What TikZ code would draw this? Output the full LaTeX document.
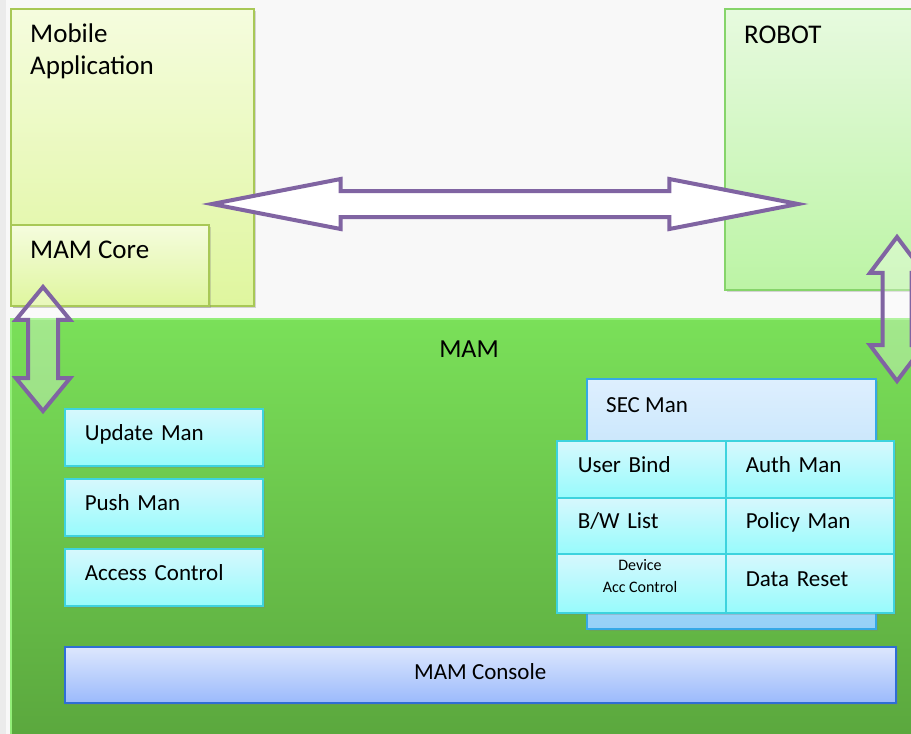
\documentclass[tikz,border=0pt]{standalone}
\usepackage{fontspec}
\setmainfont{Carlito}
\usetikzlibrary{shapes.arrows,shadows}
\definecolor{bgc}{HTML}{F8F8F8}
\definecolor{mobT}{HTML}{F5FCDE}
\definecolor{mobB}{HTML}{DFF69E}
\definecolor{mobD}{HTML}{A8C856}
\definecolor{robT}{HTML}{E7FADF}
\definecolor{robB}{HTML}{BCF4A5}
\definecolor{robD}{HTML}{86D46A}
\definecolor{mamT}{HTML}{7AE059}
\definecolor{mamB}{HTML}{5AA63D}
\definecolor{mamD}{HTML}{92EE78}
\definecolor{cyT}{HTML}{D7F8FD}
\definecolor{cyB}{HTML}{97FBFC}
\definecolor{cyD}{HTML}{3DD3DE}
\definecolor{secT}{HTML}{DEEFFE}
\definecolor{secB}{HTML}{95D1F7}
\definecolor{secD}{HTML}{35A9E6}
\definecolor{conT}{HTML}{DDE7FD}
\definecolor{conB}{HTML}{9BBAFC}
\definecolor{conD}{HTML}{2E6ED6}
\definecolor{arr}{HTML}{8064A2}
\begin{document}
\begin{tikzpicture}[x=1pt,y=-1pt,
  base/.style={draw, line width=1.5pt, anchor=north west, inner sep=0pt,
    font=\fontsize{23}{31}\selectfont,
    drop shadow={shadow xshift=2pt,shadow yshift=-2.5pt,opacity=0.3}},
  mobbox/.style={base, top color=mobT, bottom color=mobB, draw=mobD},
  robbox/.style={base, top color=robT, bottom color=robB, draw=robD},
  cybox/.style={base, top color=cyT, bottom color=cyB, draw=cyD, align=left,
    text height=16pt, text depth=10.5pt},
  secbox/.style={base, top color=secT, bottom color=secB, draw=secD},
  conbox/.style={base, top color=conT, bottom color=conB, draw=conD,
    text height=16pt, text depth=6pt},
  txt/.style={anchor=base west, inner sep=0pt, font=\fontsize{23}{31}\selectfont, align=left},
  bigtxt/.style={txt, font=\fontsize{27}{31.5}\selectfont},
  dblarrow/.style={double arrow, draw=arr, line width=4pt},
]
\useasboundingbox (0,0) rectangle (911,734);
\clip (0,0) rectangle (911,734);
\fill[bgc] (0,0) rectangle (911,734);
\fill[black!8] (0,0) rectangle (6,734);

% top boxes
\node[robbox, minimum width=200pt, minimum height=281pt] (robot) at (724,8) {};
\node[bigtxt] (robtxt) at (744,43) {ROBOT};
\node[mobbox, minimum width=243pt, minimum height=297pt] (mob) at (10,8) {};
\node[bigtxt] (mobtxt) at (30,74) {Mobile\\Application};
\node[mobbox, minimum width=198pt, minimum height=81pt] (core) at (10,224) {};
\node[bigtxt] (coretxt) at (30,258) {MAM Core};

% MAM area
\node[base, top color=mamT, bottom color=mamB, draw=mamD, minimum width=920pt, minimum height=430pt] (mam) at (10,318) {};
\node[txt, anchor=base, font=\fontsize{26}{31}\selectfont] (mamtxt) at (469,357) {MAM};

\node[cybox, minimum width=198pt, minimum height=57pt, text width=158pt] (upd) at (64,408) {Update Man};
\node[cybox, minimum width=198pt, minimum height=57pt, text width=158pt] (push) at (64,478) {Push Man};
\node[cybox, minimum width=198pt, minimum height=57pt, text width=158pt] (acc) at (64,548) {Access Control};

\node[secbox, minimum width=289pt, minimum height=250pt] (sec) at (586,378) {};
\node[txt] (sectxt) at (606,412) {SEC Man};

\node[cybox, minimum width=169pt, minimum height=57pt, text width=127pt] (ubind) at (556,440) {User Bind};
\node[cybox, minimum width=168pt, minimum height=57pt, text width=128pt] (auth) at (725,440) {Auth Man};
\node[cybox, minimum width=169pt, minimum height=56pt, text width=127pt] (bw) at (556,497) {B/W List};
\node[cybox, minimum width=168pt, minimum height=56pt, text width=128pt] (pol) at (725,497) {Policy Man};
\node[cybox, minimum width=169pt, minimum height=59pt] (dev) at (556,553) {};
\node[align=center, inner sep=0pt, font=\fontsize{16}{22}\selectfont] (devtxt) at (640,576) {Device\\Acc Control};
\node[cybox, minimum width=168pt, minimum height=59pt, text width=128pt] (reset) at (725,553) {Data Reset};

\node[conbox, minimum width=831pt, minimum height=56pt] (console) at (64,646) {MAM Console};

% block arrows
\node[dblarrow, fill=white, inner xsep=0pt, inner ysep=11pt, minimum height=586pt, minimum width=46pt,
  double arrow head extend=12pt, double arrow tip angle=22] (harr) at (505,204) {};
\node[dblarrow, fill=white, fill opacity=0.3, rotate=90, inner xsep=0pt, inner ysep=13pt, minimum height=124pt, minimum width=50pt,
  double arrow head extend=12pt, double arrow tip angle=79] (larr) at (43,349) {};
\node[dblarrow, fill=white, fill opacity=0.3, rotate=90, inner xsep=0pt, inner ysep=12.5pt, minimum height=144pt, minimum width=51pt,
  double arrow head extend=12.5pt, double arrow tip angle=74] (rarr) at (897,309) {};
\end{tikzpicture}
\end{document}
